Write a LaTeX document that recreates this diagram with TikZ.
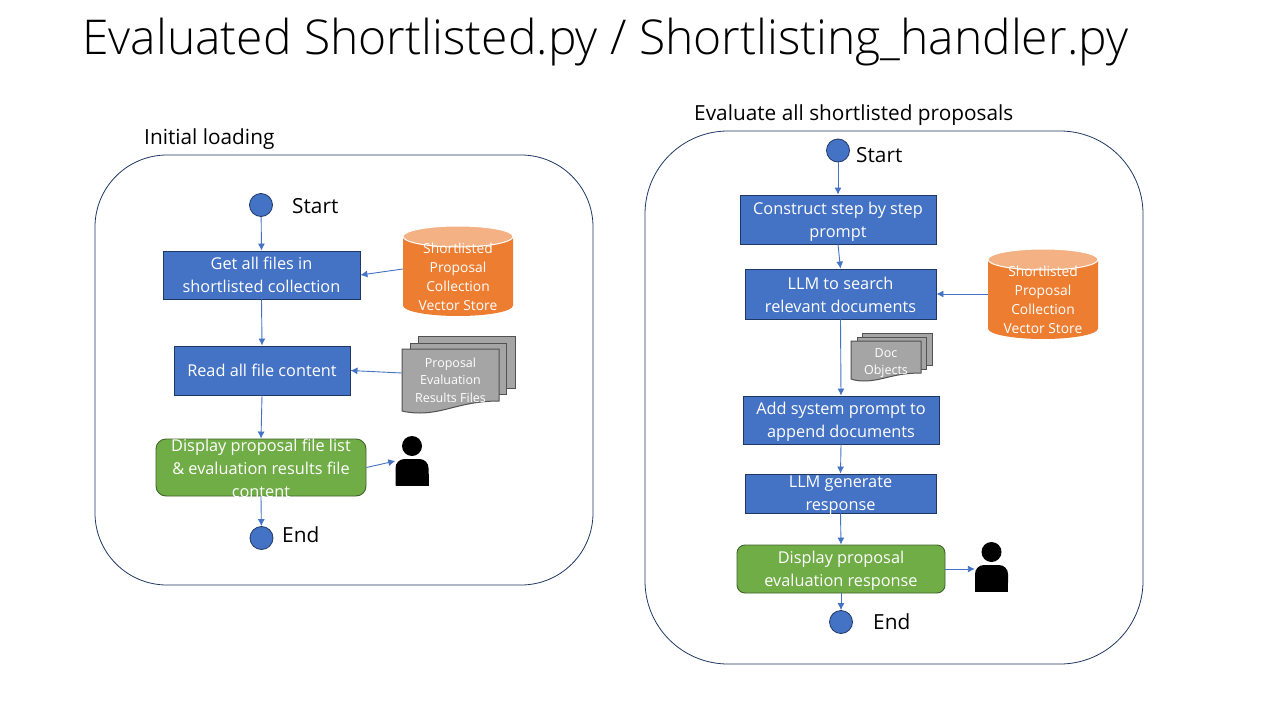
\documentclass[tikz,border=0pt]{standalone}
\usepackage{fontspec}
\setmainfont{Open Sans}
\newfontfamily\titlefont{Open Sans Light}
\usetikzlibrary{arrows.meta}
\definecolor{flowblue}{HTML}{4472C4}
\definecolor{flowedge}{HTML}{1F3864}
\definecolor{greenfill}{HTML}{70AD47}
\definecolor{greenedge}{HTML}{3F6328}
\definecolor{orangefill}{HTML}{ED7D31}
\definecolor{orangetop}{HTML}{F4B183}
\definecolor{sheetfill}{HTML}{A5A5A5}
\definecolor{sheetedge}{HTML}{525252}
\definecolor{panelline}{HTML}{203864}
\tikzset{
  flowbox/.style={draw=flowedge,fill=flowblue,line width=0.9pt,text=white,inner sep=0pt,align=center,font=\fontsize{16.3}{22.8}\selectfont},
  endbox/.style={draw=greenedge,fill=greenfill,line width=0.9pt,rounded corners=#1,text=white,inner sep=0pt,align=center,font=\fontsize{16.3}{22.8}\selectfont},
  boxtext/.style={text=white,inner sep=0pt,align=center,font=\fontsize{16.3}{22.8}\selectfont,yshift=-#1},
  dot/.style={circle,draw=flowedge,fill=flowblue,line width=0.8pt,inner sep=0pt,minimum size=23pt},
  flowarrow/.style={draw=flowblue,line width=0.9pt,-{Latex[length=7pt,width=7pt]}},
  panel/.style={draw=panelline,line width=0.8pt,fill=white,inner sep=0pt},
  caption/.style={text=black,inner sep=0pt,anchor=west,font=\fontsize{20.8}{25}\selectfont},
  shapetext/.style={text=white,inner sep=0pt,align=center,font=\fontsize{13.8}{19.2}\selectfont},
  doctext/.style={text=white,inner sep=0pt,align=center,font=\fontsize{12.5}{17.5}\selectfont},
  sheet/.style={fill=sheetfill,draw=sheetedge,line width=1pt},
  holder/.style={inner sep=0pt,minimum width=#1},
}
\newcommand{\drum}[2]{% left x, top y
  \fill[orangefill] (#1,#2+10.5) -- (#1,#2+79.5) arc[start angle=180,end angle=0,x radius=55,y radius=10.5] -- (#1+110,#2+10.5) -- cycle;
  \draw[fill=orangetop,draw=white,line width=1pt] (#1+55,#2+10.5) ellipse[x radius=55,y radius=10.5];
}
\newcommand{\personicon}[2]{% centre x, top y
  \fill[black] (#1,#2+10) circle[radius=10];
  \fill[black,rounded corners=9pt] (#1-16.5,#2+49.5) -- (#1-16.5,#2+23) -- (#1+16.5,#2+23) -- (#1+16.5,#2+49.5) [sharp corners] -- cycle;
  \fill[black] (#1-16.5,#2+38) rectangle (#1+16.5,#2+49.5);
}
\begin{document}
\begin{tikzpicture}[x=1pt,y=-1pt]
\useasboundingbox (0,0) rectangle (1280,720);
\fill[white] (0,0) rectangle (1280,720);
% title
\node[anchor=west,inner sep=0pt,text=black,font=\titlefont\fontsize{48}{52}\selectfont] (title) at (82,42.5) {Evaluated Shortlisted.py / Shortlisting\_handler.py};
% panels
\node[panel,rounded corners=72pt,minimum width=498pt,minimum height=430pt] (panelL) at (344,370) {};
\node[panel,rounded corners=83pt,minimum width=498pt,minimum height=533pt] (panelR) at (894,397.5) {};
\node[caption] (capL) at (144,139) {Initial loading};
\node[caption] (capR) at (694,115) {Evaluate all shortlisted proposals};
% left column
\node[dot] (startL) at (261,205) {};
\node[caption] (startLt) at (292,206) {Start};
\node[flowbox,minimum width=197pt,minimum height=48pt] (getfiles) at (261.5,275) {Get all files in\\shortlisted collection};
\node[flowbox,minimum width=176pt,minimum height=49pt] (readall) at (262,370.5) {Read all file content};
\node[endbox=10pt,minimum width=210pt,minimum height=57pt,label={[boxtext=1pt]center:{Display proposal file list\\\&\ evaluation results file\\content}}] (showL) at (261,467.5) {};
\node[dot] (endL) at (261.5,538) {};
\node[caption] (endLt) at (282,535) {End};
\drum{403}{226}
\node[holder=110pt,minimum height=90pt] (storeL) at (458,269) {};
\node[shapetext] (storeLt) at (458,277) {Shortlisted\\Proposal\\Collection\\Vector Store};
\draw[sheet] (418,336) rectangle (515,388);
\draw[sheet] (410,343) rectangle (506,394);
\draw[sheet] (402,349) -- (499,349) -- (499,401) .. controls (462,401) and (445,413) .. (420,413) .. controls (412,413) and (406,412) .. (402,411) -- cycle;
\node[holder=97pt,minimum height=48pt] (docsL) at (450.5,373) {};
\node[doctext] (docsLt) at (450.5,380) {Proposal\\Evaluation\\Results Files};
\personicon{412}{436}
\node[holder=33pt,minimum height=50pt] (userL) at (412,461) {};
% right column
\node[dot] (startR) at (838,150.5) {};
\node[caption] (startRt) at (856,155) {Start};
\node[flowbox,minimum width=196pt,minimum height=49pt,label={[boxtext=2pt]center:{Construct step by step\\prompt}}] (construct) at (838,219.5) {};
\node[flowbox,minimum width=191pt,minimum height=50pt,label={[boxtext=1pt]center:{LLM to search\\relevant documents}}] (search) at (840.5,294) {};
\node[flowbox,minimum width=196pt,minimum height=48pt,label={[boxtext=2pt]center:{Add system prompt to\\append documents}}] (sysprompt) at (841,420) {};
\node[flowbox,minimum width=191pt,minimum height=39pt,label={[boxtext=2pt]center:{LLM generate\\response}}] (generate) at (840.5,493.5) {};
\node[endbox=8pt,minimum width=208pt,minimum height=48pt,label={[boxtext=2pt]center:{Display proposal\\evaluation response}}] (showR) at (841,569) {};
\node[dot] (endR) at (841,622) {};
\node[caption] (endRt) at (873,622) {End};
\drum{988}{249}
\node[holder=110pt,minimum height=90pt] (storeR) at (1043,294) {};
\node[shapetext] (storeRt) at (1043,300) {Shortlisted\\Proposal\\Collection\\Vector Store};
\draw[sheet] (862,333) rectangle (932,365);
\draw[sheet] (857,337) rectangle (926,369);
\draw[sheet] (851,341) -- (921,341) -- (921,373) .. controls (893,373) and (882,381) .. (864,381) .. controls (858,381) and (854,380) .. (851,379) -- cycle;
\node[doctext] (docsRt) at (886,363) {Doc\\Objects};
\personicon{991.5}{542}
\node[holder=33pt,minimum height=50pt] (userR) at (991.5,569) {};
% connectors
\draw[flowarrow] (startL) -- (getfiles.north);
\draw[flowarrow] (getfiles.south) -- (readall.north);
\draw[flowarrow] (readall.south) -- (showL.north);
\draw[flowarrow] (showL.south) -- (endL);
\draw[flowarrow] (storeL.west) -- (getfiles.east);
\draw[flowarrow] (docsL.west) -- (readall.east);
\draw[flowarrow] (showL.east) -- (userL.west);
\draw[flowarrow] (startR) -- (construct.north);
\draw[flowarrow] (construct.south) -- (search.north);
\draw[flowarrow] (search.south) -- (sysprompt.north);
\draw[flowarrow] (sysprompt.south) -- (generate.north);
\draw[flowarrow] (generate.south) -- (showR.north);
\draw[flowarrow] (showR.south) -- (endR);
\draw[flowarrow] (storeR.west) -- (search.east);
\draw[flowarrow] (showR.east) -- (userR.west);
\end{tikzpicture}
\end{document}
